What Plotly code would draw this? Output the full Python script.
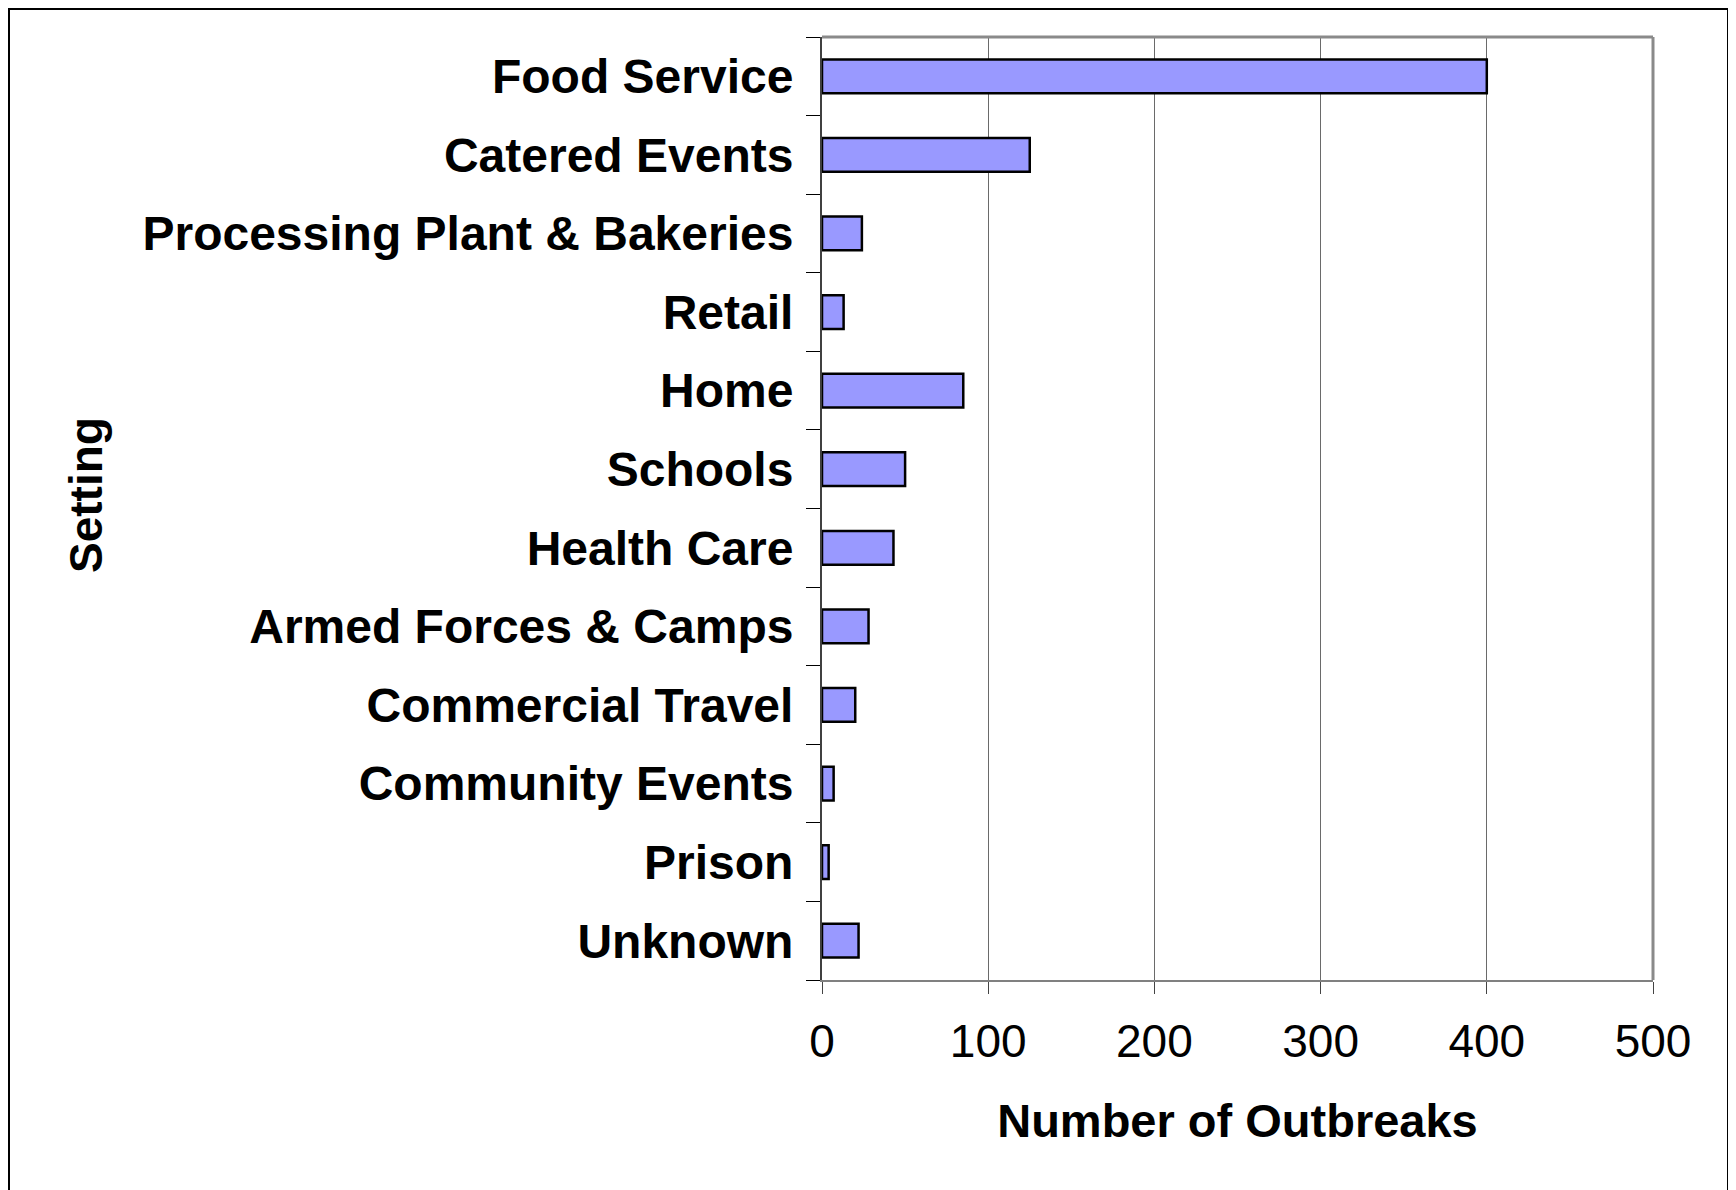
import plotly.graph_objects as go

# Outbreaks by setting
settings = [
    "Food Service", "Catered Events", "Processing Plant & Bakeries", "Retail",
    "Home", "Schools", "Health Care", "Armed Forces & Camps",
    "Commercial Travel", "Community Events", "Prison", "Unknown",
]
outbreaks = [400, 125, 24, 13, 85, 50, 43, 28, 20, 7, 4, 22]
x_ticks = [0, 100, 200, 300, 400, 500]

W, H = 1736, 1190
ML, MR, MT, MB = 814, 91, 29, 218
PW, PH = W - ML - MR, H - MT - MB


def px_x(p):
    return (p - ML) / PW


def px_y(p):
    return (H - MB - p) / PH


FONT = "Liberation Sans, Arial, sans-serif"

fig = go.Figure()

fig.add_trace(go.Bar(
    x=outbreaks,
    y=settings,
    orientation="h",
    marker=dict(color="#9999FF", line=dict(color="black", width=2.5)),
    width=0.43,
    showlegend=False,
))

# outer frame (beige page, white card with black edge)
fig.add_shape(
    type="rect", xref="paper", yref="paper", layer="below",
    x0=px_x(1), x1=px_x(1720), y0=px_y(1210), y1=px_y(1),
    fillcolor="white", line=dict(color="black", width=2),
)

# grey border on top and right of the plot area
fig.add_shape(type="line", xref="paper", yref="paper", x0=0, x1=1, y0=1, y1=1,
              line=dict(color="#8a8a8a", width=3))
fig.add_shape(type="line", xref="paper", yref="paper", x0=1, x1=1, y0=0, y1=1,
              line=dict(color="#8a8a8a", width=3))

# axis title on the left
fig.add_annotation(
    text="<b>Setting</b>", textangle=-90, showarrow=False,
    xref="paper", yref="paper", x=px_x(78), y=px_y(487),
    xanchor="center", yanchor="middle",
    font=dict(family=FONT, size=46, color="black"),
)

fig.update_layout(
    width=W, height=H,
    margin=dict(l=ML, r=MR, t=MT, b=MB, autoexpand=False),
    paper_bgcolor="#E4E2CA",
    plot_bgcolor="white",
    bargap=0.57,
    xaxis=dict(
        range=[0, 500],
        tickvals=x_ticks,
        ticks="outside", ticklen=12, tickcolor="#444444", tickwidth=1,
        tickfont=dict(family=FONT, size=46, color="black"),
        ticklabelstandoff=8,
        showgrid=True, gridcolor="#6a6a6a", gridwidth=1,
        showline=True, linecolor="#808080", linewidth=2,
        zeroline=False,
        title=dict(text="<b>Number of Outbreaks</b>", standoff=38,
                   font=dict(family=FONT, size=47, color="black")),
        automargin=False,
    ),
    yaxis=dict(
        type="category",
        categoryorder="array", categoryarray=settings,
        autorange="reversed",
        tickson="boundaries",
        ticks="outside", ticklen=14, tickcolor="black", tickwidth=1,
        tickfont=dict(family=FONT, size=48, color="black"),
        ticklabelstandoff=17,
        showgrid=False,
        showline=True, linecolor="#404040", linewidth=2,
        zeroline=False,
        automargin=False,
    ),
)

# make the tick labels bold
fig.update_yaxes(ticktext=[f"<b>{s}</b>" for s in settings], tickvals=settings)

fig.write_html("out.html")
